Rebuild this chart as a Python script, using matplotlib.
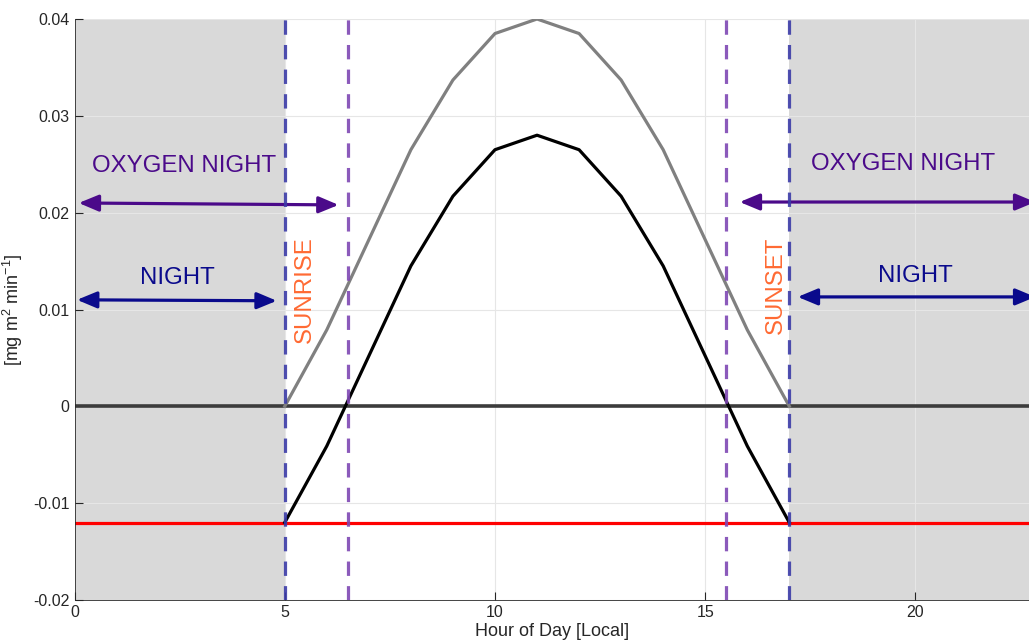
import matplotlib
matplotlib.use("Agg")
import matplotlib.pyplot as plt
import numpy as np

plt.rcParams["font.family"] = ["Liberation Sans", "DejaVu Sans"]
plt.rcParams["mathtext.fontset"] = "custom"
plt.rcParams["mathtext.rm"] = "Liberation Sans"
plt.rcParams["mathtext.default"] = "regular"

HOURS = [5, 6, 7, 8, 9, 10, 11, 12, 13, 14, 15, 16, 17]
GROSS = [0.0, 0.0079, 0.0172, 0.0265, 0.0337, 0.0385, 0.0400,
         0.0385, 0.0337, 0.0265, 0.0172, 0.0079, 0.0]
NET = [-0.0120, -0.0041, 0.0052, 0.0145, 0.0217, 0.0265, 0.0280,
       0.0265, 0.0217, 0.0145, 0.0052, -0.0041, -0.0120]
RESP = -0.012
SUNRISE, SUNSET = 5, 17
OXY_RISE, OXY_SET = 6.5, 15.5
XMAX = 22.7

NAVY = "#0a0a8c"
INDIGO = "#4b0a8a"
ORANGE = "#ff6a33"


def darrow(ax, x0, x1, y0, y1, color):
    ax.annotate("", xy=(x1, y1), xytext=(x0, y0),
                arrowprops=dict(arrowstyle="<|-|>,head_length=0.6,head_width=0.25",
                                lw=2.3, color=color, shrinkA=0, shrinkB=0,
                                mutation_scale=20),
                annotation_clip=False)


def main():
    fig = plt.figure(figsize=(10.29, 6.41), dpi=100)
    ax = fig.add_axes([74.5 / 1029, 1 - 600 / 641, 1 - 74.5 / 1029, (600 - 19) / 641])

    ax.axvspan(0, SUNRISE, color="#d9d9d9", zorder=0, lw=0)
    ax.axvspan(SUNSET, 24, color="#d9d9d9", zorder=0, lw=0)
    ax.grid(True, color="#e6e6e6", lw=0.8, zorder=0.5)
    ax.set_axisbelow(True)

    ax.axhline(0, color="#3c3c3c", lw=2.6, zorder=2)
    ax.axhline(RESP, color="red", lw=2.3, zorder=2)
    ax.plot(HOURS, GROSS, color="#808080", lw=2.3, zorder=3)
    ax.plot(HOURS, NET, color="black", lw=2.3, zorder=3)

    for x in (SUNRISE, SUNSET):
        ax.axvline(x, color="#3c3ca8", lw=2.3, ls=(0, (4.5, 3.2)), alpha=0.9, zorder=4)
    for x in (OXY_RISE, OXY_SET):
        ax.axvline(x, color="#7f48b4", lw=2.3, ls=(0, (4.5, 3.2)), alpha=0.9, zorder=4)

    fs = 17.3
    ax.text(5.48, 0.0121, "SUNRISE", rotation=90, color=ORANGE, fontsize=fs,
            ha="center", va="center")
    ax.text(16.68, 0.0125, "SUNSET", rotation=90, color=ORANGE, fontsize=fs,
            ha="center", va="center")

    ax.text(2.6, 0.0248, "OXYGEN NIGHT", color=INDIGO, fontsize=fs, ha="center", va="center")
    ax.text(19.7, 0.0250, "OXYGEN NIGHT", color=INDIGO, fontsize=fs, ha="center", va="center")
    ax.text(2.45, 0.0133, "NIGHT", color=NAVY, fontsize=fs, ha="center", va="center")
    ax.text(20.0, 0.01345, "NIGHT", color=NAVY, fontsize=fs, ha="center", va="center")

    darrow(ax, 0.1, 6.28, 0.0210, 0.0208, INDIGO)
    darrow(ax, 15.82, 22.85, 0.0211, 0.0211, INDIGO)
    darrow(ax, 0.06, 4.81, 0.0110, 0.0109, NAVY)
    darrow(ax, 17.2, 22.85, 0.0113, 0.0113, NAVY)

    ax.set_xlim(0, XMAX)
    ax.set_ylim(-0.02, 0.04)
    ax.set_xticks([0, 5, 10, 15, 20])
    ax.set_yticks(np.arange(-0.02, 0.041, 0.01))
    ax.set_yticklabels(["-0.02", "-0.01", "0", "0.01", "0.02", "0.03", "0.04"])
    ax.tick_params(direction="in", labelsize=11.5, colors="#262626", length=6)
    for s in ("top", "right"):
        ax.spines[s].set_visible(False)
    for s in ("left", "bottom"):
        ax.spines[s].set_color("#262626")
        ax.spines[s].set_linewidth(0.6)

    ax.set_xlabel("Hour of Day [Local]", fontsize=13, color="#262626", labelpad=2)
    ax.set_ylabel("[mg m$^2$ min$^{-1}$]", fontsize=13, color="#262626", labelpad=6)

    fig.savefig("out.png", dpi=100)


if __name__ == "__main__":
    main()
